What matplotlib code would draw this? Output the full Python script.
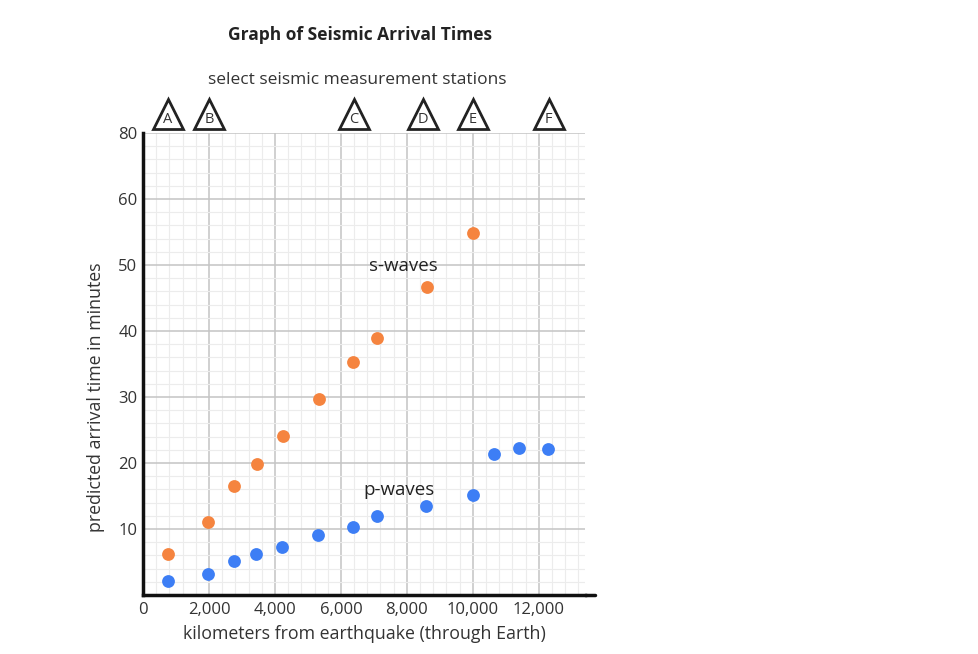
import matplotlib
matplotlib.use("Agg")
import matplotlib.pyplot as plt
from matplotlib.ticker import MultipleLocator, FixedLocator

plt.rcParams['font.family'] = ['Open Sans', 'DejaVu Sans']

# Data
s_dist = [760, 1970, 2760, 3450, 4240, 5330, 6360, 7090, 8600, 10000]
s_time = [6.2, 11.1, 16.5, 19.8, 24.1, 29.7, 35.3, 38.9, 46.7, 54.8]
p_dist = [760, 1970, 2760, 3420, 4210, 5300, 6360, 7090, 8580, 10000, 10640, 11390, 12270]
p_time = [2.1, 3.2, 5.2, 6.2, 7.3, 9.1, 10.3, 12.0, 13.5, 15.2, 21.4, 22.3, 22.1]
stations = ['A', 'B', 'C', 'D', 'E', 'F']
station_x = [760, 2000, 6400, 8500, 10000, 12300]
x_ticks = [0, 2000, 4000, 6000, 8000, 10000, 12000]
x_tick_labels = ['0', '2,000', '4,000', '6,000', '8,000', '10,000', '12,000']
y_ticks = [10, 20, 30, 40, 50, 60, 70]
y_tick_labels = ['10', '20', '30', '40', '50', '60', '80']

W, H = 979, 654
fig = plt.figure(figsize=(W / 100, H / 100), dpi=100)
ax = fig.add_axes([143 / W, (H - 595) / H, (585 - 143) / W, 462 / H])
ax.set_xlim(0, 13400)
ax.set_ylim(0, 70)

orange = '#F5843F'
blue = '#3D7EF5'
txt = '#333333'

ax.xaxis.set_major_locator(FixedLocator(x_ticks))
ax.xaxis.set_minor_locator(MultipleLocator(400))
ax.yaxis.set_major_locator(FixedLocator(y_ticks))
ax.yaxis.set_minor_locator(MultipleLocator(2))
ax.set_xticklabels(x_tick_labels)
ax.set_yticklabels(y_tick_labels)
ax.grid(which='major', color='#c4c4c4', lw=1.1)
ax.grid(which='minor', color='#ececec', lw=0.8)
ax.set_axisbelow(True)
ax.tick_params(which='both', length=0, labelsize=12, labelcolor=txt)
ax.tick_params(axis='x', pad=5)
ax.tick_params(axis='y', pad=4)

for sp in ['top', 'right']:
    ax.spines[sp].set_visible(False)
ax.spines['left'].set_linewidth(2.5)
ax.spines['bottom'].set_linewidth(2.5)
ax.spines['left'].set_color('#111111')
ax.spines['bottom'].set_color('#111111')
ax.plot([13400, 13700], [0, 0], color='#111111', lw=2.5, clip_on=False,
        solid_capstyle='round')

ax.scatter(s_dist, s_time, s=85, color=orange, zorder=3, linewidths=0)
ax.scatter(p_dist, p_time, s=85, color=blue, zorder=3, linewidths=0)

ax.text(7900, 49.8, 's-waves', fontsize=13.5, color='#222222', ha='center', va='center')
ax.text(7760, 15.9, 'p-waves', fontsize=13.5, color='#222222', ha='center', va='center')

# station triangles above the plot
for name, xs in zip(stations, station_x):
    ax.plot([xs], [72.9], marker='^', markersize=22, markerfacecolor='white',
            markeredgecolor='#222222', markeredgewidth=2.0, clip_on=False, zorder=4)
    ax.text(xs, 72.0, name, fontsize=10.5, color='#333333', ha='center', va='center',
            clip_on=False, zorder=5)

ax.set_xlabel('kilometers from earthquake (through Earth)', fontsize=12.8, color=txt, labelpad=5)
ax.set_ylabel('predicted arrival time in minutes', fontsize=12.8, color=txt, labelpad=10)
ax.yaxis.set_label_coords(-0.086, 0.428)

fig.text(360 / W, 1 - 35 / H, 'Graph of Seismic Arrival Times', fontsize=12.5,
         fontweight='bold', color='#222222', ha='center', va='center')
fig.text(357 / W, 1 - 80 / H, 'select seismic measurement stations', fontsize=12.5,
         color=txt, ha='center', va='center')

fig.savefig('out.png', dpi=100)
